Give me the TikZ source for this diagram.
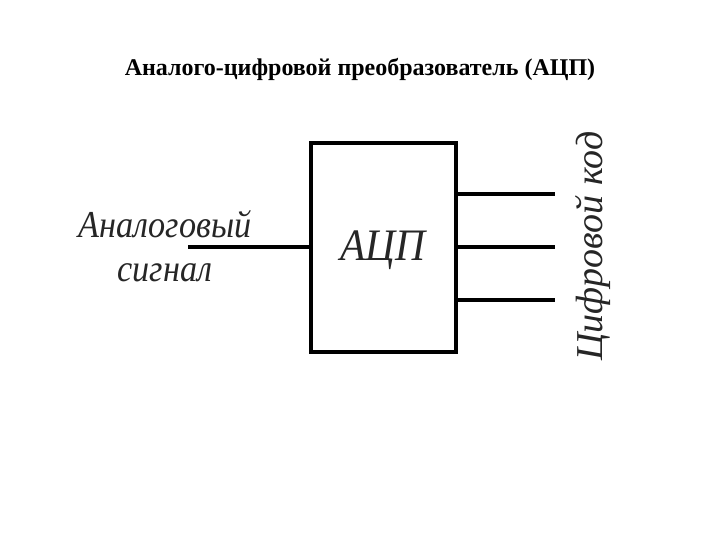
\documentclass[tikz,border=0pt]{standalone}
\usepackage{graphicx}
\usepackage{fontspec}
\setmainfont{Liberation Serif}
\begin{document}
\begin{tikzpicture}[x=1pt,y=-1pt,
  wire/.style={line width=4pt},
  lbl/.style={font=\fontsize{38}{40}\selectfont\itshape, text=black!85, inner sep=0pt},
]
\useasboundingbox[fill=white] (0,0) rectangle (720,540);
\node[font=\fontsize{24}{26}\selectfont\bfseries, anchor=base, inner sep=0pt] (title) at (360,76) {Аналого-цифровой преобразователь (АЦП)};
\node[wire, draw, minimum width=145pt, minimum height=209pt, anchor=north west, inner sep=0pt, outer sep=0pt] (adc) at (311,143) {};
\node[lbl, anchor=base] (adct) at (383,260) {\fontsize{45}{48}\selectfont\scalebox{0.92}[1]{АЦП}};
\coordinate (in) at (188,247);
\draw[wire] (in) -- (in -| adc.west);
\coordinate (o1) at (555,194);
\coordinate (o2) at (555,247);
\coordinate (o3) at (555,300);
\draw[wire] (o1 -| adc.east) -- (o1);
\draw[wire] (o2 -| adc.east) -- (o2);
\draw[wire] (o3 -| adc.east) -- (o3);
\node[lbl, anchor=base] (a1) at (165,237) {\scalebox{0.9}[1]{Аналоговый}};
\node[lbl, anchor=base] (a2) at (165,281) {\scalebox{0.9}[1]{сигнал}};
\node[lbl, anchor=base, rotate=90] (code) at (602,246) {Цифровой код};
\end{tikzpicture}
\end{document}
